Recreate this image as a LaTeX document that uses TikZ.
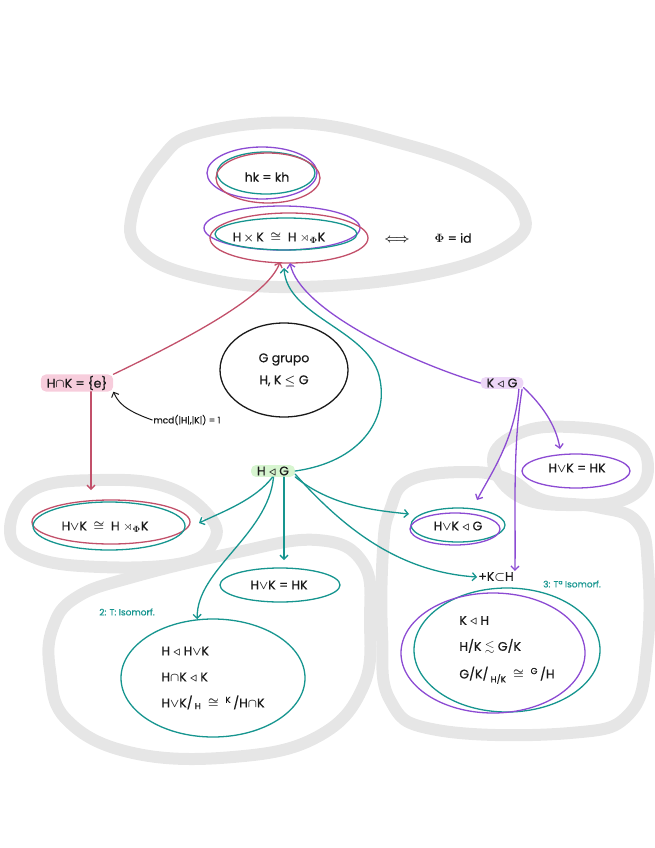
\documentclass[tikz,border=0pt]{standalone}
\usepackage{fontspec}
\setmainfont{Poppins}[UprightFeatures={FakeBold=0.6}]
\usepackage{amssymb}
\usetikzlibrary{arrows.meta,positioning,calc,shapes.geometric}
\definecolor{ink}{HTML}{1A1A1A}
\definecolor{tealink}{HTML}{16958F}
\definecolor{violink}{HTML}{8C4BD3}
\definecolor{roseink}{HTML}{C2506A}
\definecolor{halo}{HTML}{E6E6E6}
\definecolor{tagrose}{HTML}{F7CDDC}
\definecolor{taglila}{HTML}{EDD7F7}
\definecolor{tagverde}{HTML}{D7F5D0}
\tikzset{
  >={Straight Barb[length=4pt,width=8pt]},
  every node/.style={font=\fontsize{12.5}{14}\selectfont\boldmath,text=ink,inner sep=1pt},
  loopline/.style={draw=halo,line width=12pt,line cap=round,line join=round},
  ring/.style={line width=1.3pt},
  ringnode/.style={ellipse,ring,inner sep=0pt},
  tag/.style={rounded corners=5pt,inner xsep=6pt,inner ysep=1.5pt},
  hyptag/.style={tag,fill=tagrose},
  kntag/.style={tag,fill=taglila},
  hntag/.style={tag,fill=tagverde},
  arrow/.style={->,line width=1.3pt,line cap=round},
  note/.style={font=\fontsize{9}{11}\selectfont},
}

\begin{document}
\begin{tikzpicture}[x=1pt,y=-1pt]
\useasboundingbox (0,0) rectangle (655,848);

% grey groups
\draw[loopline] plot[smooth cycle,tension=.7] coordinates {(200,133) (300,123) (400,143) (483,173) (522,210) (512,243) (433,273) (300,287) (200,277) (140,250) (133,210) (160,160)};
\draw[loopline] plot[smooth cycle,tension=.7] coordinates {(33,490) (100,480) (167,487) (210,517) (213,543) (183,563) (100,567) (33,557) (10,530)};
\draw[loopline] plot[smooth cycle,tension=.7] coordinates {(317,540) (233,553) (133,577) (77,597) (53,627) (50,670) (67,720) (133,753) (233,757) (317,737) (363,687) (370,620) (363,563)};
\draw[loopline] plot[smooth cycle,tension=.7] coordinates {(493,460) (520,433) (570,427) (630,438) (648,468) (630,497) (580,505) (520,497)};
\draw[loopline] plot[smooth cycle,tension=.7] coordinates {(390,510) (410,480) (470,472) (510,480) (543,500) (597,507) (637,522) (648,567) (647,650) (630,713) (570,733) (437,730) (390,700) (382,633) (383,550)};

% product and semidirect
\node (hk) at (267,177) {hk = kh};
\draw[ring,violink] ($(hk)+(-5,-4)$) ellipse [x radius=55,y radius=26];
\draw[ring,tealink] ($(hk)+(-1,-4)$) ellipse [x radius=49,y radius=21];
\draw[ring,roseink] ($(hk)+(1,1)$) ellipse [x radius=52,y radius=25];

\node (hxk) at (279,238) {H\,$\times$\,K \ $\cong$ \ H $\rtimes_{\Phi}$K};
\draw[ring,violink] ($(hxk)+(3,-10)$) ellipse [x radius=78,y radius=22];
\draw[ring,tealink] ($(hxk)+(7,-4)$) ellipse [x radius=71,y radius=16];
\draw[ring,roseink] ($(hxk)+(10,0)$) ellipse [x radius=79,y radius=25];
\node (phi) at (428,238) {$\Longleftrightarrow$\qquad$\Phi$ = id};

% hypotheses
\node[ringnode,draw=ink,minimum width=128pt,minimum height=94pt,align=center] (hyp) at (284,370) {G grupo\\[8pt]H, K $\leq$ G};
\node[hyptag] (hnk) at (77,383) {H$\cap$K = \{e\}};
\node[note] (mcd) at (187,420) {mcd(|H|,|K|) = 1};
\node[kntag] (kng) at (502,383) {K $\triangleleft$ G};
\node[hntag] (hng) at (273,471) {H $\triangleleft$ G};

% results
\node (hvkl) at (105,527) {H$\vee$K \ $\cong$ \ H $\rtimes_{\Phi}$K};
\draw[ring,roseink] ($(hvkl)+(6,-5)$) ellipse [x radius=79,y radius=22];
\draw[ring,tealink] ($(hvkl)+(4,-1)$) ellipse [x radius=76,y radius=24];

\node (hvkr) at (577,468) {H$\vee$K = HK};
\draw[ring,violink] ($(hvkr)+(-1,3)$) ellipse [x radius=54,y radius=17];

\node (hvkn) at (458,526) {H$\vee$K $\triangleleft$ G};
\draw[ring,tealink] ($(hvkn)+(0,-1)$) ellipse [x radius=47,y radius=17];
\draw[ring,violink] ($(hvkn)+(-3,3)$) ellipse [x radius=45,y radius=16];

\node (hvkp) at (279,585) {H$\vee$K = HK};
\draw[ring,tealink] ($(hvkp)+(1,0)$) ellipse [x radius=60,y radius=17];

\node (kh) at (496,577) {+K$\subset$H};
\node[note,text=tealink] (t3) at (572,584) {3: Tª Isomorf.};
\node[note,text=tealink] (t2) at (127,612) {2: T: Isomorf.};

\node[ringnode,draw=tealink,minimum width=184pt,minimum height=118pt,align=left] (iso2) at (213,678)
{H $\triangleleft$ H$\vee$K\\[12pt]H$\cap$K $\triangleleft$ K\\[12pt]H$\vee$K/\,\textsubscript{H} \ $\cong$ \ \textsuperscript{K}\,/H$\cap$K};
\node[ringnode,draw=tealink,minimum width=186pt,minimum height=124pt,align=left] (iso3) at (507,650)
{K $\triangleleft$ H\\[12pt]H/K $\lesssim$ G/K\\[12pt]G/K/\,\textsubscript{H/K} \ $\cong$ \ \textsuperscript{G}\,/H};
\draw[ring,violink] ($(iso3)+(-14,3)$) ellipse [x radius=92,y radius=60];

% arrow ends
\coordinate (hxkR) at (280,262);
\coordinate (hxkT) at (284,268);
\coordinate (hxkP) at (290,263);
\coordinate (hvklR) at (91,490);
\coordinate (hvklT) at (199,523);
\coordinate (hvkpT) at (284,560);
\coordinate (hvknT) at (409,514);
\coordinate (hvknP) at (477,500);
\coordinate (hvkrP) at (560,449);

\draw[arrow,roseink] (hnk.north east) .. controls (195,335) and (268,295) .. (hxkR);
\draw[arrow,roseink] (hnk.south -| hvklR) -- (hvklR);
\draw[arrow,ink,line width=1pt] (mcd.west) .. controls (124,410) and (118,402) .. (hnk.south east);

\draw[arrow,tealink] (hng.east) .. controls (360,462) and (388,420) .. (380,380) .. controls (372,330) and (287,318) .. (hxkT);
\draw[arrow,violink] (kng.west) .. controls (410,362) and (300,310) .. (hxkP);

\draw[arrow,violink] (kng.-12) .. controls (542,405) and (556,425) .. (hvkrP);
\draw[arrow,violink] (kng.-20) .. controls (515,440) and (490,475) .. (hvknP);
\draw[arrow,violink] (kng.-17) .. controls (512,450) and (516,520) .. (kh.north east);

\draw[arrow,tealink] (hng.-95) .. controls (255,500) and (222,512) .. (hvklT);
\draw[arrow,tealink] (hng.-85) .. controls (268,535) and (196,570) .. (iso2.105);
\draw[arrow,tealink] (hng.south -| hvkpT) -- (hvkpT);
\draw[arrow,tealink] (hng.-15) .. controls (330,505) and (370,510) .. (hvknT);
\draw[arrow,tealink] (hng.-8) .. controls (345,530) and (400,572) .. (kh.west);

\end{tikzpicture}
\end{document}
